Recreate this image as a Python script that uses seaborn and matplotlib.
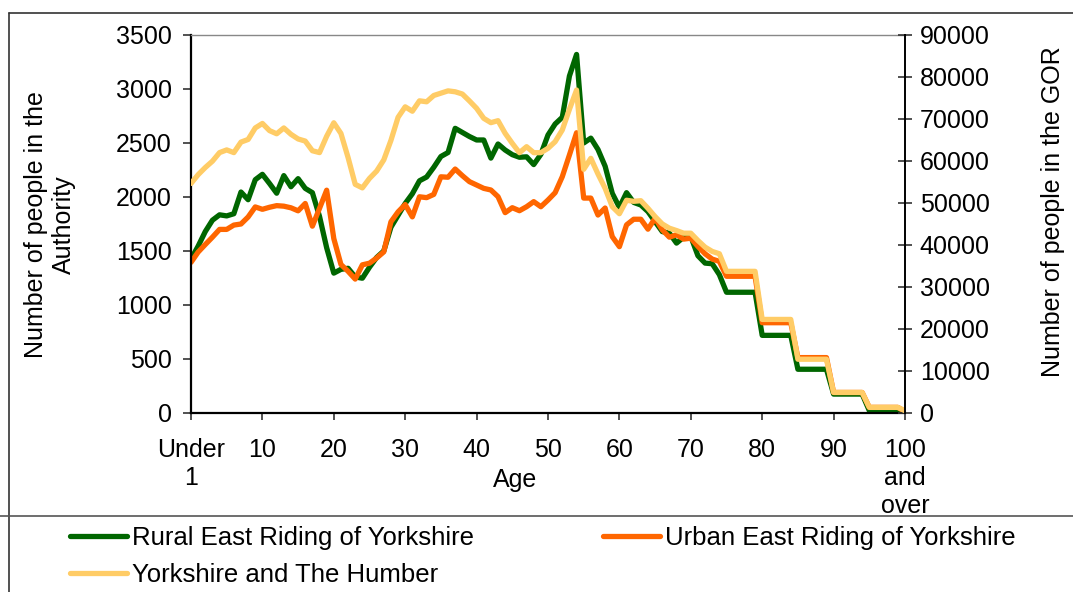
import matplotlib
matplotlib.use("Agg")
import numpy as np
import pandas as pd
import seaborn as sns
import matplotlib.pyplot as plt
from matplotlib.lines import Line2D

# ---------------- data ----------------
ages = list(range(101))

rural = [1425, 1545, 1680, 1785, 1835, 1825, 1845, 2046, 1975, 2160,
         2210, 2125, 2035, 2198, 2095, 2170, 2080, 2040, 1820, 1530,
         1295, 1330, 1340, 1260, 1248, 1350, 1440, 1500, 1720, 1830,
         1940, 2030, 2150, 2185, 2275, 2375, 2412, 2636, 2598, 2560,
         2528, 2528, 2360, 2491, 2435, 2392, 2368, 2372, 2300, 2395,
         2574, 2676, 2738, 3120, 3320, 2500, 2545, 2440, 2285, 2034,
         1904, 2040, 1950, 1926, 1865, 1772, 1680, 1665, 1573, 1628,
         1634, 1456, 1388, 1382, 1281, 1118, 1118, 1118, 1118, 1118,
         719, 719, 719, 719, 719, 405, 405, 405, 405, 405,
         175, 175, 175, 175, 175, 22, 22, 22, 22, 22,
         5]

urban = [1395, 1490, 1560, 1628, 1700, 1700, 1740, 1750, 1815, 1908,
         1886, 1905, 1920, 1915, 1900, 1872, 1940, 1730, 1895, 2063,
         1615, 1375, 1312, 1240, 1372, 1387, 1435, 1492, 1770, 1862,
         1930, 1816, 2002, 1994, 2024, 2187, 2183, 2259, 2198, 2142,
         2111, 2080, 2065, 2003, 1855, 1901, 1873, 1910, 1957, 1910,
         1972, 2040, 2188, 2389, 2595, 1990, 1990, 1833, 1898, 1633,
         1540, 1742, 1794, 1794, 1702, 1803, 1696, 1628, 1650, 1610,
         1619, 1542, 1474, 1425, 1404, 1266, 1266, 1266, 1266, 1266,
         836, 836, 836, 836, 836, 513, 513, 513, 513, 513,
         190, 190, 190, 190, 190, 52, 52, 52, 52, 52,
         12]

region = [54650, 56750, 58450, 59950, 62000, 62640, 62000, 64500, 65130, 67870,
          68940, 67230, 66480, 67870, 66360, 65250, 64740, 62440, 62000, 65890,
          69100, 66560, 60820, 54440, 53600, 55860, 57600, 60260, 64900, 70400,
          72900, 71850, 74330, 74100, 75600, 76150, 76700, 76480, 75950, 74300,
          72540, 70160, 69130, 69600, 66590, 64200, 61980, 63410, 61980, 61980,
          63020, 64600, 67380, 72300, 76900, 58020, 60640, 56900, 53490, 49130,
          47450, 50650, 50400, 50550, 48740, 46760, 45020, 44000, 43440, 42810,
          42810, 41070, 39490, 38470, 37920, 33730, 33730, 33730, 33730, 33730,
          22280, 22280, 22280, 22280, 22280, 12800, 12800, 12800, 12800, 12800,
          4900, 4900, 4900, 4900, 4900, 1340, 1340, 1340, 1340, 1340,
          550]

series_names = ["Rural East Riding of Yorkshire",
                "Urban East Riding of Yorkshire",
                "Yorkshire and The Humber"]
x_ticks = list(range(0, 101, 10))
x_tick_labels = ["Under\n1", "10", "20", "30", "40", "50", "60", "70", "80", "90",
                 "100\nand\nover"]
left_ticks = list(range(0, 3501, 500))
right_ticks = list(range(0, 90001, 10000))

df = pd.DataFrame({"age": ages, "rural": rural, "urban": urban, "region": region})

# ---------------- style ----------------
sns.set_style("ticks")
plt.rcParams["font.family"] = ["Liberation Sans", "DejaVu Sans"]
plt.rcParams["text.color"] = "black"
plt.rcParams["xtick.color"] = "black"
plt.rcParams["ytick.color"] = "black"
plt.rcParams["axes.labelcolor"] = "black"

W, H = 1073, 592
fig = plt.figure(figsize=(W / 100, H / 100), dpi=100)
ax = fig.add_axes([191 / W, 1 - 413 / H, (905 - 191) / W, (413 - 35) / H])
ax2 = ax.twinx()

green = "#006600"
orange = "#FF6600"
yellow = "#FFCC66"
lw = 3.8

sns.lineplot(data=df, x="age", y="rural", ax=ax, color=green, linewidth=lw,
             label=series_names[0], legend=False)
sns.lineplot(data=df, x="age", y="urban", ax=ax, color=orange, linewidth=lw,
             label=series_names[1], legend=False)
sns.lineplot(data=df, x="age", y="region", ax=ax2, color=yellow, linewidth=lw,
             label=series_names[2], legend=False)

ax.set_xlim(0, 100)
ax.set_ylim(0, 3500)
ax2.set_ylim(0, 90000)

fs = 18
ax.set_xticks(x_ticks)
ax.set_xticklabels(x_tick_labels)
ax.set_yticks(left_ticks)
ax.set_yticklabels([str(v) for v in left_ticks])
ax2.set_yticks(right_ticks)
ax2.set_yticklabels([str(v) for v in right_ticks])

ax.set_xlabel("")
ax.set_ylabel("")
ax2.set_ylabel("")

ax.tick_params(axis="x", direction="out", length=5, width=1.2, pad=13,
               labelsize=fs, color="#333333", labelcolor="black", bottom=True)
ax.tick_params(axis="y", direction="out", length=5.8, width=1.2, pad=8,
               labelsize=fs, color="#333333", labelcolor="black", left=True)
ax2.tick_params(axis="y", direction="inout", length=9.4, width=1.2, pad=6,
                labelsize=fs, color="#333333", labelcolor="black",
                right=True, left=False)

for s in ["left", "bottom"]:
    ax.spines[s].set_color("black")
    ax.spines[s].set_linewidth(1.6)
ax.spines["top"].set_visible(True)
ax.spines["top"].set_color("#888888")
ax.spines["top"].set_linewidth(1.0)
ax.spines["right"].set_visible(False)
for s in ["left", "bottom", "top"]:
    ax2.spines[s].set_visible(False)
ax2.spines["right"].set_visible(True)
ax2.spines["right"].set_color("black")
ax2.spines["right"].set_linewidth(1.4)

# axis titles
fig.text(50 / W, 1 - 225 / H, "Number of people in the\nAuthority", rotation=90,
         ha="center", va="center", multialignment="center", fontsize=fs,
         color="black")
fig.text(1053 / W, 1 - 212 / H, "Number of people in the GOR", rotation=90,
         ha="center", va="center", fontsize=fs, color="black")
fig.text(515 / W, 1 - 480 / H, "Age", ha="center", va="center", fontsize=fs,
         color="black")

# legend
lfs = 18.5
h1 = ax.get_lines()[0]
h2 = ax.get_lines()[1]
h3 = ax2.get_lines()[0]
leg = fig.legend([h1, h3, h2], [series_names[0], series_names[2], series_names[1]],
                 ncol=2, loc="upper left", bbox_to_anchor=(70 / W, 1 - 526 / H),
                 frameon=False, fontsize=lfs, handlelength=2.2, handletextpad=0.2,
                 columnspacing=5.05, labelspacing=0.52, borderpad=0,
                 borderaxespad=0)
for t in leg.get_texts():
    t.set_color("black")

# chart frame
fy_top = 1 - 13 / H
fig.add_artist(Line2D([9 / W, 1], [fy_top, fy_top], transform=fig.transFigure,
                      color="#333333", linewidth=1.2))
fig.add_artist(Line2D([9 / W, 9 / W], [0, fy_top], transform=fig.transFigure,
                      color="#333333", linewidth=1.2))
fy_leg = 1 - 516 / H
fig.add_artist(Line2D([0, 1], [fy_leg, fy_leg], transform=fig.transFigure,
                      color="#555555", linewidth=1.2))

fig.savefig("out.png", dpi=100, facecolor="white")
